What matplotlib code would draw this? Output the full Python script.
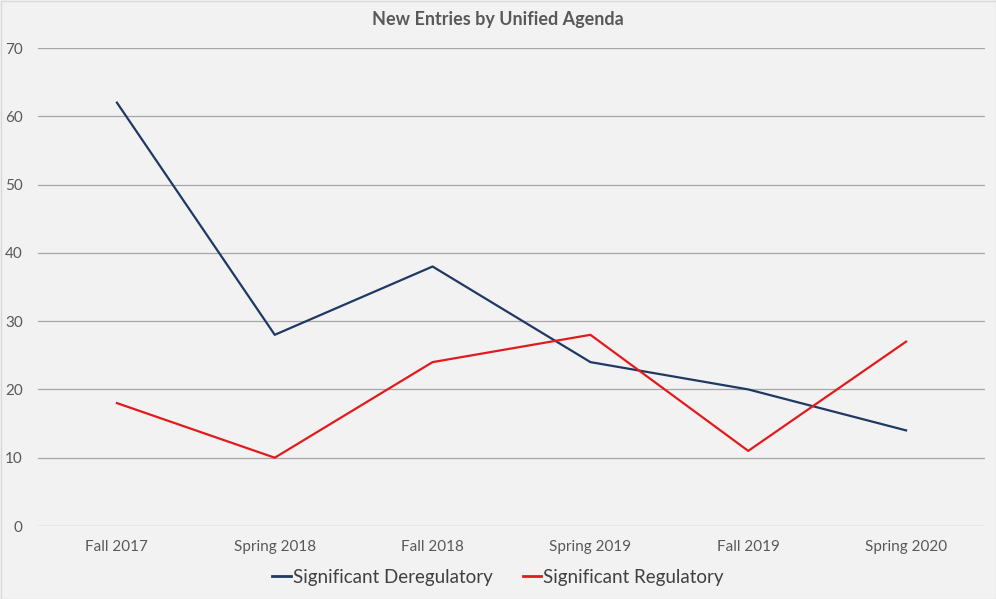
import matplotlib
matplotlib.use("Agg")
import matplotlib.pyplot as plt
from matplotlib.lines import Line2D

categories = ["Fall 2017", "Spring 2018", "Fall 2018", "Spring 2019", "Fall 2019", "Spring 2020"]
deregulatory = [62, 28, 38, 24, 20, 14]
regulatory = [18, 10, 24, 28, 11, 27]
yticks = [0, 10, 20, 30, 40, 50, 60, 70]

plt.rcParams['font.family'] = ['Lato', 'DejaVu Sans']
W, H = 996, 599
fig = plt.figure(figsize=(W/100, H/100), dpi=100, facecolor='#f2f2f2')
ax = fig.add_axes([38/W, (H-526)/H, (985-38)/W, (526-48)/H], facecolor='#f2f2f2')

x = list(range(len(categories)))
ax.plot(x, deregulatory, color='#1f3864', lw=1.6, label='Significant Deregulatory')
ax.plot(x, regulatory, color='#e31a1c', lw=1.6, label='Significant Regulatory')

ax.set_xlim(-0.5, len(categories) - 0.5)
ax.set_ylim(0, 70)
ax.set_yticks(yticks)
ax.set_yticklabels([str(v) for v in yticks], color='#595959', fontsize=11)
ax.set_xticks(x)
ax.set_xticklabels(categories, color='#595959', fontsize=11)
ax.grid(axis='y', color='#a6a6a6', lw=0.9)
ax.set_axisbelow(True)
for s in ax.spines.values():
    s.set_visible(False)
ax.tick_params(axis='both', length=0)
ax.tick_params(axis='y', pad=11)
ax.tick_params(axis='x', pad=10)

fig.text(0.5, (H-19)/H, "New Entries by Unified Agenda", ha='center', va='center',
         fontsize=13, fontweight='bold', color='#595959')

handles = [Line2D([], [], color='#1f3864', lw=2), Line2D([], [], color='#e31a1c', lw=2)]
fig.legend(handles, ['Significant Deregulatory', 'Significant Regulatory'],
           loc='center', bbox_to_anchor=(0.5, (H-577)/H), ncol=2, frameon=False,
           fontsize=13.5, handlelength=1.0, handletextpad=0.1, columnspacing=1.6,
           labelcolor='#404040')

border = plt.Rectangle((0.5/W, 0.5/H), 1-1/W, 1-1/H, transform=fig.transFigure,
                       fill=False, edgecolor='#d9d9d9', lw=1)
fig.patches.append(border)

fig.savefig("out.png", dpi=100, facecolor=fig.get_facecolor())
